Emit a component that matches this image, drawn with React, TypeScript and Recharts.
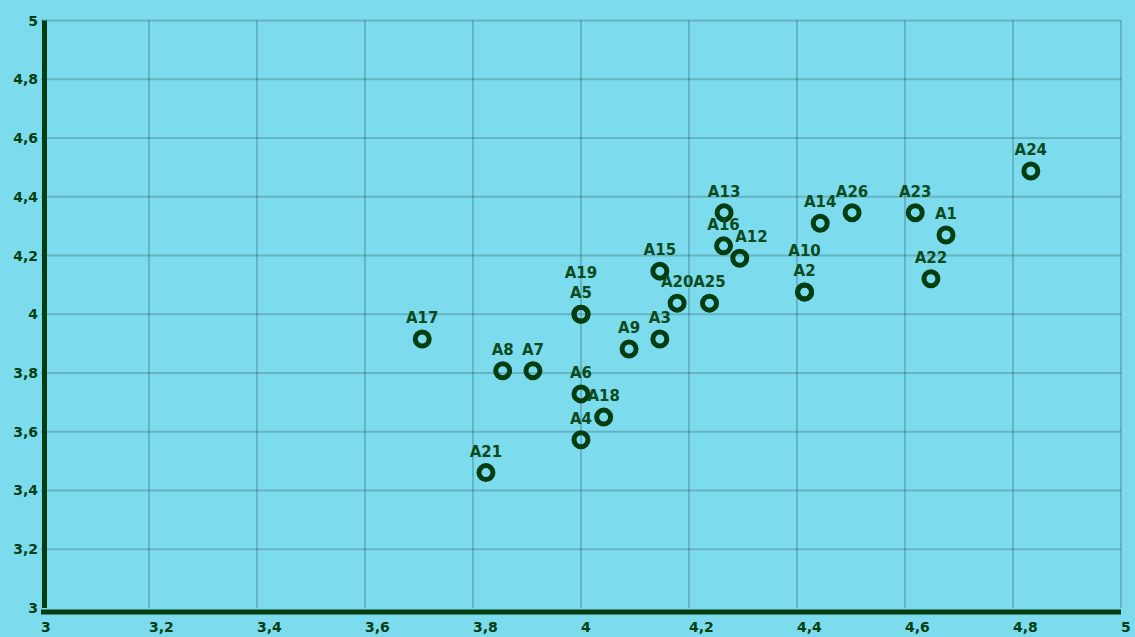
import React from 'react';
import { ScatterChart, Scatter, XAxis, YAxis, CartesianGrid } from 'recharts';

const names = [
  'A1', 'A2', 'A3', 'A4', 'A5', 'A6', 'A7', 'A8', 'A9', 'A10', 'A11', 'A12', 'A13',
  'A14', 'A15', 'A16', 'A17', 'A18', 'A19', 'A20', 'A21', 'A22', 'A23', 'A24', 'A25', 'A26',
];
// A11 is not visible in the reference; null marks it as absent
const xValues = [
  4.676, 4.414, 4.146, 4.0, 4.0, 4.0, 3.911, 3.855, 4.089, 4.414, null, 4.294, 4.265,
  4.443, 4.146, 4.264, 3.706, 4.042, 4.0, 4.178, 3.824, 4.648, 4.619, 4.833, 4.238, 4.502,
];
const yValues = [
  4.27, 4.076, 3.916, 3.573, 4.0, 3.729, 3.808, 3.808, 3.882, 4.076, null, 4.191, 4.346,
  4.31, 4.147, 4.233, 3.916, 3.65, 4.0, 4.038, 3.461, 4.121, 4.346, 4.488, 4.038, 4.346,
];
const xTicks = [3, 3.2, 3.4, 3.6, 3.8, 4, 4.2, 4.4, 4.6, 4.8, 5];
const yTicks = [3, 3.2, 3.4, 3.6, 3.8, 4, 4.2, 4.4, 4.6, 4.8, 5];

// sorted top to bottom so labels higher up get placed first
const data = names
  .map((name, i) => ({ name, x: xValues[i], y: yValues[i], order: i }))
  .filter((d) => d.x !== null && d.y !== null)
  .sort((a, b) => (b.y as number) - (a.y as number) || a.order - b.order);

const DARK = '#003d10';
const LABEL = '#0b4a1c';
const FONT = '"DejaVu Sans", sans-serif';
const LABEL_SIZE = 15;

const fmt = (v: number) => String(v).replace('.', ',');

// labels of points sharing a position are stacked upward
const stackIndex = (name: string) => {
  const idx = data.findIndex((d) => d.name === name);
  const p = data[idx];
  return data.slice(0, idx).filter((d) => d.x === p.x && d.y === p.y).length;
};

// rough label boxes, used to nudge a label right when it runs into an earlier one
const placed = new Map<string, { x0: number; x1: number; y0: number; y1: number }>();
const textWidth = (s: string) => s.length * LABEL_SIZE * 0.62;

const RingPoint = (props: any) => {
  const { cx, cy, payload } = props;
  const k = stackIndex(payload.name);
  const ty = cy - 16 - k * 20;
  const w = textWidth(payload.name);
  let tx = cx;
  const idx = data.findIndex((d) => d.name === payload.name);
  for (const prev of data.slice(0, idx)) {
    const b = placed.get(prev.name);
    if (!b) continue;
    const x0 = tx - w / 2;
    const x1 = tx + w / 2;
    if (x0 < b.x1 && x1 > b.x0 && ty - 12 < b.y1 && ty + 2 > b.y0) {
      tx = b.x1 + w / 2;
    }
  }
  placed.set(payload.name, { x0: tx - w / 2, x1: tx + w / 2, y0: ty - 12, y1: ty + 2 });
  return (
    <g>
      <circle cx={cx} cy={cy} r={7} fill="none" stroke={DARK} strokeWidth={5} />
      <text
        x={tx}
        y={ty}
        textAnchor="middle"
        fontFamily={FONT}
        fontWeight="bold"
        fontSize={LABEL_SIZE}
        fill={LABEL}
      >
        {payload.name}
      </text>
    </g>
  );
};

const XTick = ({ x, y, payload }: any) => (
  <text x={x} y={y} dy="0.71em" textAnchor="start" fontFamily={FONT} fontWeight="bold" fontSize={14} fill={DARK}>
    {fmt(payload.value)}
  </text>
);

const YTick = ({ x, y, payload }: any) => (
  <text x={x} y={y} dy="0.355em" textAnchor="end" fontFamily={FONT} fontWeight="bold" fontSize={14} fill={DARK}>
    {fmt(payload.value)}
  </text>
);

export default function App() {
  return (
    <div style={{ position: 'absolute', left: 0, top: 0, width: 1135, height: 637, background: '#7cdced' }}>
      <ScatterChart width={1135} height={637} margin={{ top: 20.6, right: 14, bottom: 0, left: 0 }}>
        <CartesianGrid
          stroke="#000"
          strokeOpacity={0.18}
          strokeWidth={2}
          horizontalValues={yTicks.slice(1)}
          verticalValues={xTicks.slice(1)}
        />
        <XAxis
          type="number"
          dataKey="x"
          domain={[3, 5]}
          ticks={xTicks}
          height={29}
          tickLine={false}
          tickSize={6}
          tickMargin={8}
          tick={<XTick />}
          axisLine={{ stroke: DARK, strokeWidth: 5, transform: 'translate(0,4)' }}
        />
        <YAxis
          type="number"
          dataKey="y"
          domain={[3, 5]}
          ticks={yTicks}
          width={41}
          tickLine={false}
          tickSize={3}
          tickMargin={0}
          tick={<YTick />}
          axisLine={{ stroke: DARK, strokeWidth: 5, transform: 'translate(3.5,0)' }}
        />
        <Scatter data={data} shape={<RingPoint />} isAnimationActive={false} />
      </ScatterChart>
    </div>
  );
}
